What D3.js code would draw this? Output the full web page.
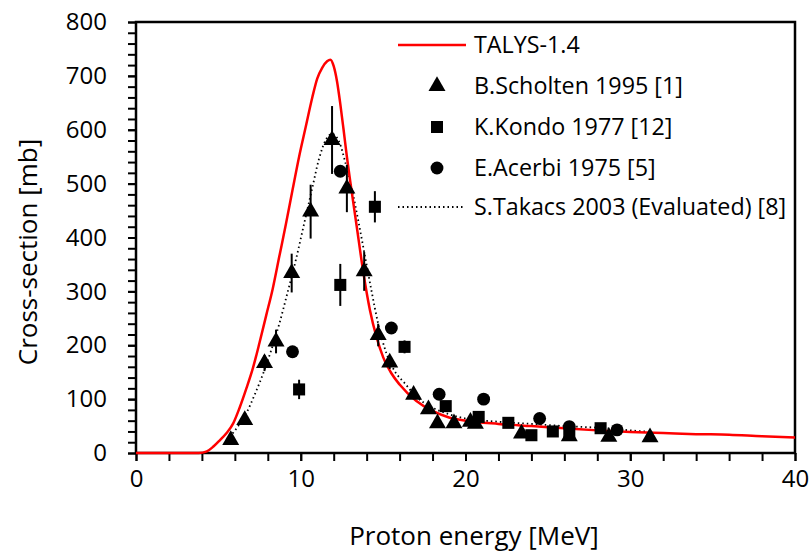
<!DOCTYPE html>
<html>
<head>
<meta charset="utf-8">
<script src="https://cdn.jsdelivr.net/npm/d3@7"></script>
<style>
body { margin: 0; background: #fff; }
svg { font-family: "Open Sans", sans-serif; }
</style>
</head>
<body>
<div class="canvas"></div>
<script>
// TALYS-1.4 calculation
const talysE = [0, 2, 3.8, 4.3, 4.7, 5.1, 5.5, 5.9, 6.3, 6.7, 7.1, 7.5, 7.9, 8.3, 8.7, 9.1, 9.5, 9.9, 10.3, 10.7, 11.0, 11.3, 11.6, 11.8, 12.0, 12.2, 12.4, 12.6, 12.8, 13.0, 13.4, 13.8, 14.2, 14.6, 15.0, 15.5, 16, 17, 18, 19, 20, 22, 24, 26, 28, 30, 32, 34, 36, 38, 40];
const talysXS = [0, 0, 0, 3, 12, 24, 37, 55, 85, 120, 158, 205, 255, 305, 365, 425, 488, 550, 605, 660, 695, 715, 727, 730, 718, 690, 648, 600, 550, 505, 420, 335, 265, 215, 178, 148, 127, 97, 78, 66, 60, 54, 50, 46, 42, 39, 37, 35, 34, 31, 29];

// S.Takacs 2003 evaluated
const takacsE = [5.7, 6.2, 6.7, 7.2, 7.7, 8.2, 8.7, 9.2, 9.7, 10.2, 10.7, 11.1, 11.5, 11.9, 12.3, 12.7, 13.1, 13.5, 13.9, 14.3, 14.7, 15.2, 15.7, 16.3, 17, 18, 19, 20, 22, 24, 26, 28, 30, 31.3];
const takacsXS = [30, 50, 74, 108, 146, 190, 240, 298, 358, 425, 492, 545, 580, 592, 580, 540, 490, 430, 365, 300, 240, 185, 152, 130, 105, 84, 72, 64, 58, 54, 50, 47, 42, 39];

// B.Scholten 1995
const scholtenE = [5.75, 6.6, 7.8, 8.5, 9.45, 10.6, 11.9, 12.8, 13.85, 14.7, 15.4, 16.85, 17.75, 18.3, 19.3, 20.3, 20.6, 23.4, 26.3, 28.7, 31.2];
const scholtenXS = [24, 61, 167, 207, 334, 448, 581, 491, 337, 219, 168, 108, 81, 55, 55, 58, 54, 36, 31, 30, 29];
const scholtenErr = [3, 6, 15, 22, 36, 50, 63, 44, 36, 21, 12, 8, 6, 5, 5, 5, 5, 4, 3, 3, 3];

// K.Kondo 1977
const kondoE = [9.9, 12.4, 14.5, 16.3, 18.8, 20.8, 22.6, 24.0, 25.3, 26.3, 28.2];
const kondoXS = [118, 312, 457, 197, 87, 67, 56, 33, 40, 36, 46];
const kondoErr = [18, 39, 29, 12, 8, 6, 5, 4, 5, 5, 5];

// E.Acerbi 1975
const acerbiE = [9.5, 12.4, 15.5, 18.4, 21.1, 24.5, 26.3, 29.2];
const acerbiXS = [188, 523, 232, 109, 100, 64, 49, 43];

const legendLabels = ['TALYS-1.4', 'B.Scholten 1995 [1]', 'K.Kondo 1977 [12]', 'E.Acerbi 1975 [5]', 'S.Takacs 2003 (Evaluated) [8]'];

const dims = {width: 809, height: 553};
const margin = {left: 136, right: 14, top: 22, bottom: 100};
const w = dims.width - margin.left - margin.right;
const h = dims.height - margin.top - margin.bottom;

const svg = d3.select('.canvas')
  .append('svg')
  .attr('width', dims.width)
  .attr('height', dims.height);

const graph = svg.append('g')
  .attr('transform', `translate(${margin.left}, ${margin.top})`);

const x = d3.scaleLinear().domain([0, 40]).range([0, w]);
const y = d3.scaleLinear().domain([0, 800]).range([h, 0]);

// minor ticks
const xAxisMinor = d3.axisBottom(x).tickValues(d3.range(0, 41, 2)).tickSize(8).tickFormat('');
const yAxisMinor = d3.axisLeft(y).tickValues(d3.range(0, 801, 20)).tickSize(8).tickFormat('');
graph.append('g').attr('transform', `translate(0, ${h})`).call(xAxisMinor);
graph.append('g').call(yAxisMinor);

// major ticks + labels
const xAxis = d3.axisBottom(x).tickValues(d3.range(0, 41, 10)).tickSize(8).tickPadding(9);
const yAxis = d3.axisLeft(y).tickValues(d3.range(0, 801, 100)).tickSize(8).tickPadding(21);
const gx = graph.append('g').attr('transform', `translate(0, ${h})`).call(xAxis);
const gy = graph.append('g').call(yAxis);

[gx, gy].forEach(g => {
  g.selectAll('text').attr('font-size', 24).attr('font-family', '"Open Sans", sans-serif').attr('fill', '#000');
});
graph.selectAll('.domain').remove();
graph.selectAll('.tick line').attr('stroke', '#000').attr('stroke-width', 2);

// frame
graph.append('rect')
  .attr('width', w)
  .attr('height', h)
  .attr('fill', 'none')
  .attr('stroke', '#000')
  .attr('stroke-width', 2.5);

// curves
const line = d3.line()
  .x(d => x(d[0]))
  .y(d => y(d[1]))
  .curve(d3.curveMonotoneX);

graph.append('path')
  .datum(takacsE.map((e, i) => [e, takacsXS[i]]))
  .attr('fill', 'none')
  .attr('stroke', '#000')
  .attr('stroke-width', 1.8)
  .attr('stroke-dasharray', '1.5,3')
  .attr('d', line);

graph.append('path')
  .datum(talysE.map((e, i) => [e, talysXS[i]]))
  .attr('fill', 'none')
  .attr('stroke', '#ff0000')
  .attr('stroke-width', 2.5)
  .attr('d', line);

// error bars
const errBars = (E, XS, ERR) => {
  graph.append('g').selectAll('line')
    .data(E.map((e, i) => ({e, v: XS[i], err: ERR[i]})))
    .enter()
    .append('line')
    .attr('x1', d => x(d.e))
    .attr('x2', d => x(d.e))
    .attr('y1', d => y(d.v - d.err))
    .attr('y2', d => y(d.v + d.err))
    .attr('stroke', '#000')
    .attr('stroke-width', 2);
};
errBars(scholtenE, scholtenXS, scholtenErr);
errBars(kondoE, kondoXS, kondoErr);

const tri = d3.symbol().type(d3.symbolTriangle).size(125);
const sq = d3.symbol().type(d3.symbolSquare).size(145);
const circ = d3.symbol().type(d3.symbolCircle).size(130);

const markers = (E, XS, sym) => {
  graph.append('g').selectAll('path')
    .data(E.map((e, i) => ({e, v: XS[i]})))
    .enter()
    .append('path')
    .attr('d', sym)
    .attr('fill', '#000')
    .attr('transform', d => `translate(${x(d.e)}, ${y(d.v)})`);
};
markers(kondoE, kondoXS, sq);
markers(acerbiE, acerbiXS, circ);
markers(scholtenE, scholtenXS, tri);

// legend
const legend = svg.append('g').attr('transform', 'translate(398, 45)');
const rowGap = 41;
legend.append('line').attr('x1', 0).attr('x2', 68).attr('y1', 0).attr('y2', 0)
  .attr('stroke', '#ff0000').attr('stroke-width', 2.5);
legend.append('path').attr('d', tri).attr('fill', '#000').attr('transform', `translate(39, ${rowGap})`);
legend.append('path').attr('d', sq).attr('fill', '#000').attr('transform', `translate(39, ${rowGap * 2})`);
legend.append('path').attr('d', circ).attr('fill', '#000').attr('transform', `translate(39, ${rowGap * 3})`);
legend.append('line').attr('x1', 0).attr('x2', 65).attr('y1', rowGap * 4 - 2).attr('y2', rowGap * 4 - 2)
  .attr('stroke', '#000').attr('stroke-width', 1.8).attr('stroke-dasharray', '1.5,3');

legend.selectAll('text')
  .data(legendLabels)
  .enter()
  .append('text')
  .attr('x', 76)
  .attr('y', (d, i) => i * rowGap - (i === 4 ? 2 : 0))
  .attr('dy', '0.35em')
  .attr('font-size', 23.3)
  .attr('fill', '#000')
  .text(d => d);

// axis titles
svg.append('text')
  .attr('x', 474)
  .attr('y', 545)
  .attr('text-anchor', 'middle')
  .attr('font-size', 26)
  .text('Proton energy [MeV]');

svg.append('text')
  .attr('transform', 'translate(37, 252) rotate(-90)')
  .attr('text-anchor', 'middle')
  .attr('font-size', 26)
  .text('Cross-section [mb]');
</script>
</body>
</html>
